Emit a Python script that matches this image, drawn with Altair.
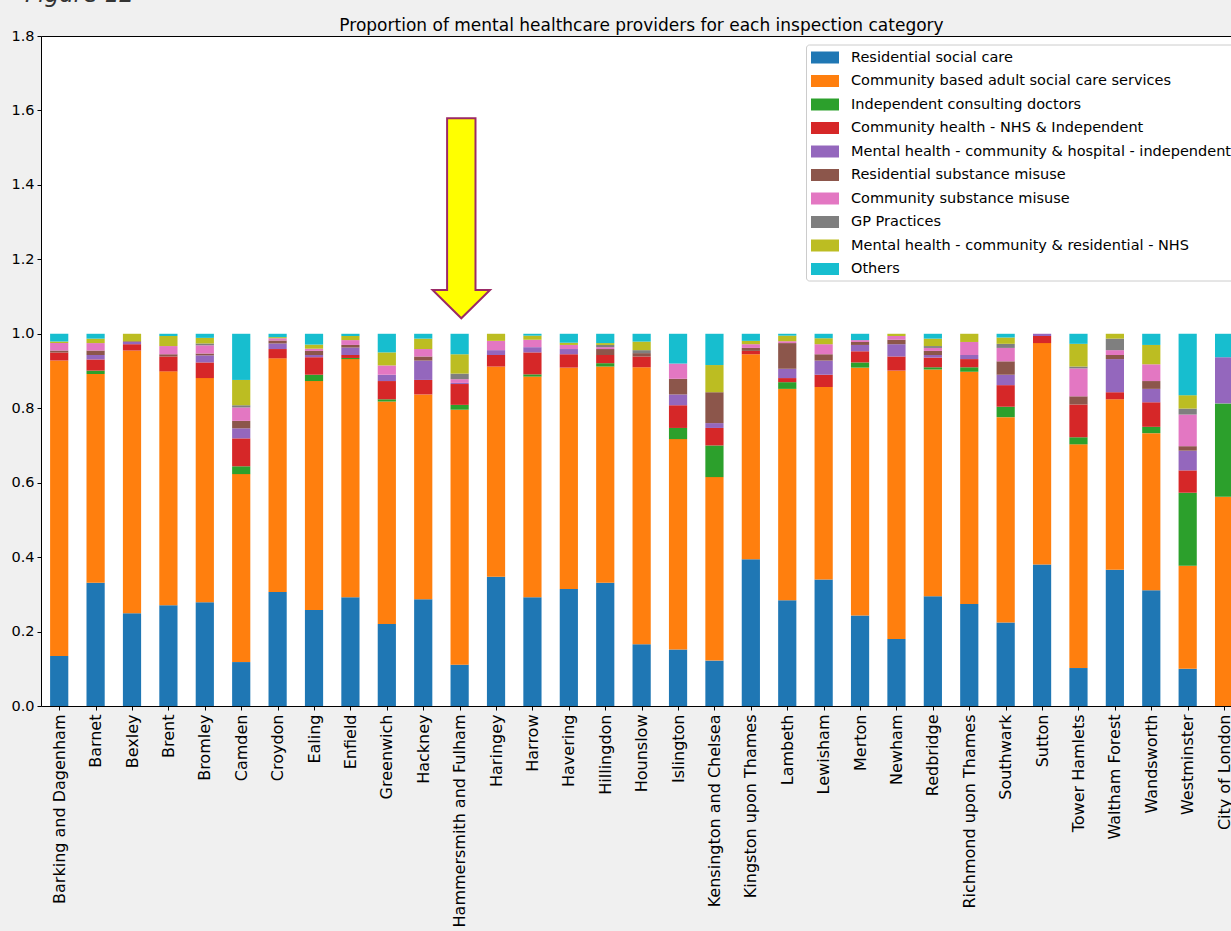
import json
import altair as alt
import pandas as pd

boroughs = [
    "Barking and Dagenham", "Barnet", "Bexley", "Brent", "Bromley", "Camden",
    "Croydon", "Ealing", "Enfield", "Greenwich", "Hackney", "Hammersmith and Fulham",
    "Haringey", "Harrow", "Havering", "Hillingdon", "Hounslow", "Islington",
    "Kensington and Chelsea", "Kingston upon Thames", "Lambeth", "Lewisham",
    "Merton", "Newham", "Redbridge", "Richmond upon Thames", "Southwark", "Sutton",
    "Tower Hamlets", "Waltham Forest", "Wandsworth", "Westminster", "City of London",
]

categories = [
    "Residential social care",
    "Community based adult social care services",
    "Independent consulting doctors",
    "Community health - NHS & Independent",
    "Mental health - community & hospital - independent",
    "Residential substance misuse",
    "Community substance misuse",
    "GP Practices",
    "Mental health - community & residential - NHS",
    "Others",
]

colors = ["#1f77b4", "#ff7f0e", "#2ca02c", "#d62728", "#9467bd",
          "#8c564b", "#e377c2", "#7f7f7f", "#bcbd22", "#17becf"]

residential_social_care = [0.134, 0.331, 0.249, 0.271, 0.279, 0.118, 0.306, 0.258, 0.292, 0.220, 0.287,
                           0.111, 0.347, 0.292, 0.314, 0.331, 0.166, 0.152, 0.122, 0.394, 0.284, 0.340,
                           0.243, 0.180, 0.295, 0.274, 0.224, 0.380, 0.102, 0.366, 0.311, 0.100, 0.000]
community_adult_social_care = [0.794, 0.561, 0.706, 0.628, 0.602, 0.505, 0.628, 0.615, 0.640, 0.598, 0.550,
                               0.685, 0.565, 0.593, 0.595, 0.581, 0.744, 0.565, 0.493, 0.551, 0.568, 0.517,
                               0.666, 0.721, 0.609, 0.624, 0.552, 0.595, 0.601, 0.458, 0.422, 0.277, 0.562]
independent_consulting_doctors = [0.000, 0.009, 0.000, 0.000, 0.000, 0.021, 0.000, 0.017, 0.003, 0.006, 0.000,
                                  0.013, 0.000, 0.006, 0.000, 0.009, 0.000, 0.030, 0.085, 0.000, 0.018, 0.000,
                                  0.014, 0.000, 0.006, 0.012, 0.028, 0.000, 0.019, 0.000, 0.017, 0.196, 0.251]
community_health = [0.022, 0.030, 0.017, 0.040, 0.042, 0.075, 0.025, 0.047, 0.008, 0.049, 0.039,
                    0.056, 0.031, 0.059, 0.036, 0.022, 0.029, 0.061, 0.047, 0.009, 0.011, 0.033,
                    0.030, 0.038, 0.026, 0.022, 0.058, 0.019, 0.088, 0.019, 0.066, 0.060, 0.000]
mh_community_hospital_independent = [0.000, 0.012, 0.006, 0.000, 0.019, 0.027, 0.015, 0.006, 0.020, 0.017, 0.052,
                                     0.003, 0.013, 0.014, 0.014, 0.000, 0.000, 0.029, 0.013, 0.000, 0.025, 0.038,
                                     0.017, 0.033, 0.007, 0.011, 0.028, 0.006, 0.000, 0.089, 0.036, 0.053, 0.124]
residential_substance_misuse = [0.005, 0.012, 0.002, 0.006, 0.005, 0.020, 0.008, 0.011, 0.007, 0.000, 0.011,
                                0.000, 0.000, 0.000, 0.000, 0.016, 0.009, 0.042, 0.083, 0.008, 0.069, 0.017,
                                0.008, 0.012, 0.011, 0.000, 0.036, 0.000, 0.022, 0.011, 0.021, 0.012, 0.000]
community_substance_misuse = [0.020, 0.020, 0.000, 0.022, 0.022, 0.036, 0.006, 0.006, 0.013, 0.025, 0.020,
                              0.010, 0.025, 0.020, 0.011, 0.005, 0.000, 0.041, 0.000, 0.010, 0.005, 0.027,
                              0.005, 0.010, 0.008, 0.035, 0.036, 0.000, 0.075, 0.013, 0.045, 0.085, 0.000]
gp_practices = [0.000, 0.000, 0.000, 0.000, 0.005, 0.006, 0.000, 0.000, 0.000, 0.000, 0.000,
                0.015, 0.000, 0.000, 0.000, 0.006, 0.008, 0.000, 0.000, 0.000, 0.000, 0.000,
                0.000, 0.000, 0.005, 0.000, 0.011, 0.000, 0.005, 0.031, 0.000, 0.016, 0.000]
mh_community_residential_nhs = [0.004, 0.012, 0.020, 0.027, 0.015, 0.068, 0.003, 0.011, 0.011, 0.035, 0.028,
                                0.052, 0.019, 0.011, 0.006, 0.005, 0.023, 0.000, 0.073, 0.009, 0.015, 0.016,
                                0.000, 0.006, 0.020, 0.022, 0.017, 0.000, 0.061, 0.013, 0.052, 0.036, 0.000]
others = [0.021, 0.013, 0.000, 0.006, 0.011, 0.124, 0.009, 0.029, 0.006, 0.050, 0.013,
          0.055, 0.000, 0.005, 0.024, 0.025, 0.021, 0.080, 0.084, 0.019, 0.005, 0.012,
          0.017, 0.000, 0.013, 0.000, 0.010, 0.000, 0.027, 0.000, 0.030, 0.165, 0.063]

series = [residential_social_care, community_adult_social_care, independent_consulting_doctors,
          community_health, mh_community_hospital_independent, residential_substance_misuse,
          community_substance_misuse, gp_practices, mh_community_residential_nhs, others]

title_text = "Proportion of mental healthcare providers for each inspection category"
figure_text = "Figure 12"

rows = []
for i, b in enumerate(boroughs):
    for k, (cat, vals) in enumerate(zip(categories, series)):
        rows.append({"idx": i, "borough": b, "category": cat, "order": k, "value": vals[i]})
df = pd.DataFrame(rows)

FONT = "DejaVu Sans"
x_scale = alt.Scale(domain=[-0.5, 32.19], nice=False, zero=False)
y_scale = alt.Scale(domain=[0, 1.8], nice=False, zero=False)
label_expr = "[" + ",".join(json.dumps(b) for b in boroughs) + "][datum.value]"

bars = (
    alt.Chart(df)
    .transform_stack(stack="value", groupby=["idx"], as_=["y0", "y1"],
                     sort=[alt.SortField("order", order="ascending")])
    .transform_calculate(x0="datum.idx - 0.25", x1="datum.idx + 0.25")
    .mark_bar(clip=True)
    .encode(
        x=alt.X("x0:Q", scale=x_scale, title=None,
                axis=alt.Axis(values=list(range(len(boroughs))), labelExpr=label_expr,
                              labelAngle=-90, labelFontSize=16, labelPadding=4,
                              labelOverlap=False, labelFlush=False, labelBound=False,
                              labelLimit=1000, grid=False, domain=False,
                              tickSize=4, tickColor="black", labelColor="black", labelFont=FONT)),
        x2="x1:Q",
        y=alt.Y("y0:Q", scale=y_scale, title=None,
                axis=alt.Axis(values=[0, 0.2, 0.4, 0.6, 0.8, 1.0, 1.2, 1.4, 1.6, 1.8], format=".1f",
                              labelFontSize=14.5, labelPadding=3, grid=False, domain=False,
                              tickSize=4, tickColor="black", labelColor="black", labelFont=FONT,
                              labelFlush=False, labelOverlap=False)),
        y2="y1:Q",
        color=alt.Color(
            "category:N",
            scale=alt.Scale(domain=categories, range=colors),
            legend=alt.Legend(
                title=None, orient="none", legendX=765, legendY=8.5,
                fillColor="white", strokeColor="#cccccc", cornerRadius=3, padding=5,
                labelFontSize=14.5, labelFont=FONT, labelColor="black", labelLimit=1000,
                symbolType="M-1.75,-0.75H1.75V0.75H-1.75Z", symbolSize=256,
                symbolStrokeWidth=0, symbolOpacity=1, rowPadding=8.5,
                symbolOffset=6, labelOffset=18,
            ),
        ),
    )
)

ARROW = "M-0.142,-1L0.142,-1L0.142,0.717L0.287,0.717L0,1L-0.287,0.717L-0.142,0.717Z"
anno = pd.DataFrame({"a": [0]})
arrow = (
    alt.Chart(anno)
    .mark_point(shape=ARROW, size=40000, filled=True, fill="#ffff00", stroke="#9b2a66",
                strokeWidth=2, opacity=1, fillOpacity=1, strokeOpacity=1)
    .encode(x=alt.value(420.3), y=alt.value(182.3))
)

title_mark = (
    alt.Chart(anno)
    .mark_text(text=title_text, fontSize=17, align="center", baseline="alphabetic",
               color="black", font=FONT)
    .encode(x=alt.value(600.5), y=alt.value(-5.5))
)

fig_label = (
    alt.Chart(anno)
    .mark_text(text=figure_text, fontSize=23, fontStyle="italic", align="left",
               baseline="alphabetic", color="#333333", font=FONT)
    .encode(x=alt.value(-16), y=alt.value(-34))
)

chart = (
    alt.layer(bars, arrow, title_mark, fig_label)
    .properties(
        width=1190, height=670,
        autosize=alt.AutoSizeParams(type="none"),
        padding={"left": 41, "top": 36, "right": 0, "bottom": 225},
        background="#f0f0f0",
    )
    .configure_view(fill="white", stroke="black", strokeWidth=1)
)

chart.save("out.html", embed_options={"renderer": "svg", "actions": False})
